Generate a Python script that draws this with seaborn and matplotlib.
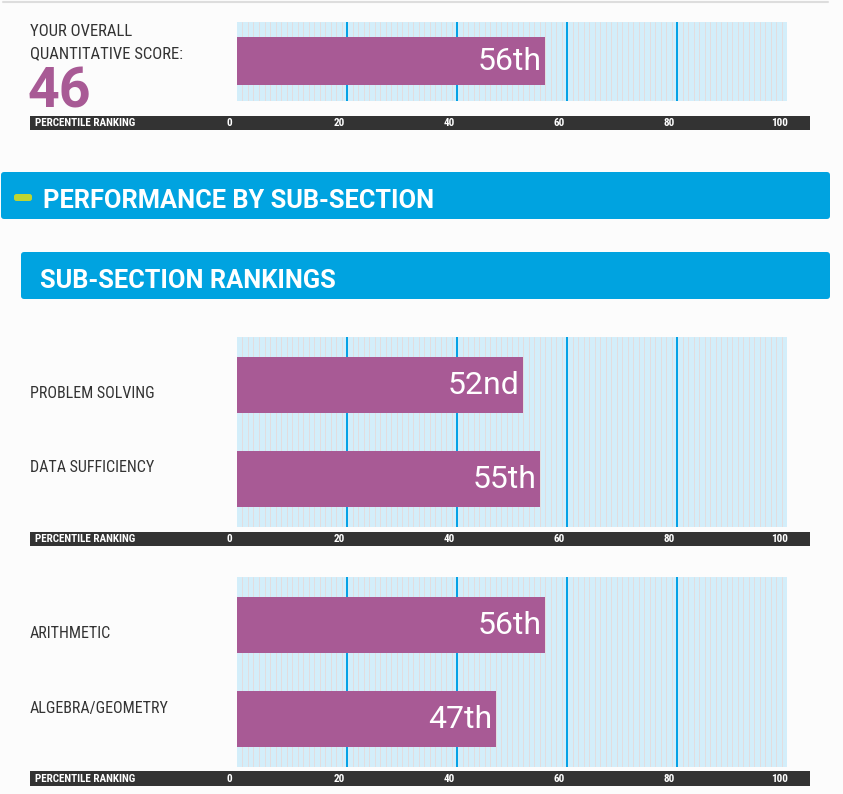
import matplotlib
matplotlib.use("Agg")
import matplotlib.pyplot as plt
import seaborn as sns
import pandas as pd
from matplotlib import font_manager
from matplotlib.patches import FancyBboxPatch
from matplotlib.lines import Line2D

# --- data ---
overall_label = ["YOUR OVERALL", "QUANTITATIVE SCORE:"]
overall_score = "46"
overall_names = ["OVERALL"]
overall_pct = [56]
overall_rank = ["56th"]

section_names = ["PROBLEM SOLVING", "DATA SUFFICIENCY"]
section_pct = [52, 55]
section_rank = ["52nd", "55th"]

topic_names = ["ARITHMETIC", "ALGEBRA/GEOMETRY"]
topic_pct = [56, 47]
topic_rank = ["56th", "47th"]

ticks = [0, 20, 40, 60, 80, 100]

W, H = 843, 794
PURPLE = "#a85a95"
BLUE = "#00a3e0"
DARK = "#333333"

sns.set_theme(style="white")
available = {f.name for f in font_manager.fontManager.ttflist}
NARROW = next((n for n in ["Roboto Condensed", "Liberation Sans Narrow"] if n in available), "Roboto")
plt.rcParams["font.family"] = ["Roboto", "DejaVu Sans"]

fig = plt.figure(figsize=(W / 100, H / 100), dpi=100, facecolor="#fcfcfc")


def box(x0, y0, x1, y1):
    # pixel box (top-left origin) -> figure fraction rect
    return [x0 / W, 1 - y1 / H, (x1 - x0) / W, (y1 - y0) / H]


def fig_text(x, y, s, **kw):
    fig.text(x / W, 1 - y / H, s, **kw)


def draw_bars(top, bottom, names, pct, rank, ylim, width):
    ax = fig.add_axes(box(237, top, 787, bottom))
    ax.set_facecolor("#d3eefa")
    for v in range(1, 100):
        ax.axvline(v, color="#e6dada", lw=0.6, zorder=0.3)
    for v in ticks[1:-1]:
        ax.axvline(v, color="#00a0e6", lw=1.4, zorder=0.5)
    df = pd.DataFrame({"name": names, "pct": pct})
    sns.barplot(data=df, x="pct", y="name", color=PURPLE, saturation=1,
                width=width, linewidth=0, edgecolor="none", ax=ax, zorder=2)
    for i, (v, r) in enumerate(zip(pct, rank)):
        ax.text(v - 0.6, i - 0.03, r, ha="right", va="center_baseline", color="white",
                fontsize=23, zorder=3)
    ax.set_xlim(0, 100)
    ax.set_ylim(*ylim)
    ax.set(xlabel="", ylabel="", xticks=[], yticks=[])
    for s in ax.spines.values():
        s.set_visible(False)
    return ax


def draw_strip(top, bottom):
    ax = fig.add_axes(box(30, top, 810, bottom))
    ax.set_facecolor(DARK)
    # tick labels sit ~7px left of the grid lines
    ax.set_xlim(-36.3, 105.6)
    ax.set_ylim(0, 1)
    ax.set(xticks=[], yticks=[])
    for s in ax.spines.values():
        s.set_visible(False)
    ax.text(0.0065, 0.5, "PERCENTILE RANKING", transform=ax.transAxes,
            ha="left", va="center", color="white", fontsize=8,
            fontweight="bold", family=NARROW)
    for t in ticks:
        ax.text(t, 0.5, str(t), ha="center", va="center", color="white",
                fontsize=8, fontweight="bold", family=NARROW)


def header(x0, y0, x1, y1, title, tx):
    fig.add_artist(FancyBboxPatch((x0 / W, 1 - y1 / H), (x1 - x0) / W, (y1 - y0) / H,
                                  boxstyle="round,pad=0,rounding_size=0.004",
                                  transform=fig.transFigure, fc=BLUE, ec="none"))
    fig_text(tx, (y0 + y1) / 2 + 5, title, ha="left", va="center", color="white",
             fontsize=18.3, fontweight="bold")


# thin rule at the very top
fig.add_artist(Line2D([3 / W, 828 / W], [1 - 1.5 / H, 1 - 1.5 / H],
                      color="#dddddd", lw=1.5, transform=fig.transFigure))

# overall score panel
fig_text(30, 32, overall_label[0], ha="left", va="center", color=DARK,
         fontsize=12, family=NARROW)
fig_text(30, 54, overall_label[1], ha="left", va="center", color=DARK,
         fontsize=12, family=NARROW)
fig_text(28, 92, overall_score, ha="left", va="center", color=PURPLE,
         fontsize=40, fontweight="bold")
draw_bars(22, 101, overall_names, overall_pct, overall_rank, (0.506, -0.494), 0.608)
draw_strip(116, 130)

# section headers
header(1, 172, 830, 219, "PERFORMANCE BY SUB-SECTION", 43)
fig.add_artist(FancyBboxPatch((14 / W, 1 - 201 / H), 18 / W, 7 / H,
                              boxstyle="round,pad=0,rounding_size=0.003",
                              transform=fig.transFigure, fc="#bed531", ec="none"))
header(21, 252, 830, 299, "SUB-SECTION RANKINGS", 40)

# question type panel
draw_bars(337, 527, section_names, section_pct, section_rank, (1.51, -0.51), 0.6)
for name, y in zip(section_names, [393, 468]):
    fig_text(30, y, name, ha="left", va="center", color=DARK, fontsize=11.5, family=NARROW)
draw_strip(532, 546)

# content area panel
draw_bars(577, 767, topic_names, topic_pct, topic_rank, (1.51, -0.51), 0.6)
for name, y in zip(topic_names, [633, 708]):
    fig_text(30, y, name, ha="left", va="center", color=DARK, fontsize=11.5, family=NARROW)
draw_strip(771, 786)

fig.savefig("out.png", dpi=100, facecolor=fig.get_facecolor())
